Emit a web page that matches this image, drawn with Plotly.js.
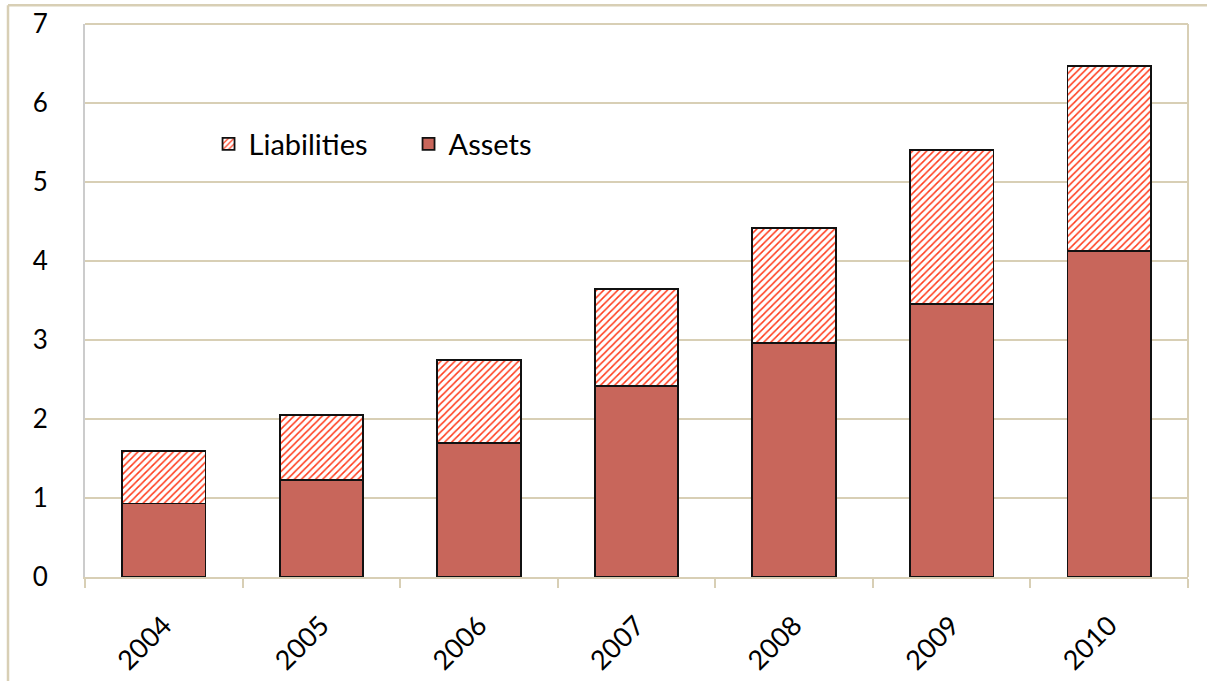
<!DOCTYPE html>
<html>
<head>
<meta charset="utf-8">
<script src="https://cdn.plot.ly/plotly-3.0.1.min.js"></script>
<style>
html,body{margin:0;padding:0;background:#fff;}
#chart{width:1207px;height:681px;}
</style>
</head>
<body>
<div id="chart"></div>
<script>
var years = ["2004","2005","2006","2007","2008","2009","2010"];
var assets = [0.93, 1.23, 1.70, 2.42, 2.96, 3.46, 4.13];
var liabilities = [0.66, 0.82, 1.05, 1.23, 1.46, 1.95, 2.34];
var yTicks = [0,1,2,3,4,5,6,7];

var tan = "#d8cfb5";
var font = "Lato, 'Open Sans', sans-serif";

var traces = [
  {
    type: "bar", name: "Assets", x: years, y: assets,
    marker: {color: "#c8665b", line: {color: "#111", width: 1.8}}
  },
  {
    type: "bar", name: "Liabilities", x: years, y: liabilities,
    marker: {
      color: "#ffffff",
      line: {color: "#111", width: 1.8},
      pattern: {shape: "/", fgcolor: "#ff3a1a", bgcolor: "#ffffff", size: 5, solidity: 0.3}
    }
  }
];

var layout = {
  width: 1207, height: 681,
  margin: {l: 85, r: 19, t: 24, b: 104},
  paper_bgcolor: "#fff", plot_bgcolor: "#fff",
  barmode: "stack",
  bargap: 0.47,
  font: {family: font, size: 26, color: "#000"},
  showlegend: true,
  legend: {
    orientation: "h", traceorder: "reversed",
    x: 0.112, y: 0.783, xanchor: "left", yanchor: "middle",
    bgcolor: "rgba(0,0,0,0)", font: {family: font, size: 29, color: "#000"},
    entrywidth: 155
  },
  xaxis: {
    type: "category",
    showgrid: false,
    showline: true, linecolor: tan, linewidth: 2,
    ticks: "outside", tickson: "boundaries", ticklen: 9, tickcolor: tan, tickwidth: 2,
    tickangle: -45, ticklabelstandoff: 20,
    tickfont: {family: font, size: 27, color: "#000"}
  },
  yaxis: {
    range: [0, 7], tickvals: yTicks,
    showgrid: true, gridcolor: tan, gridwidth: 2,
    showline: true, linecolor: "#cccccc", linewidth: 2,
    ticks: "", ticklabelstandoff: 30, zeroline: false,
    tickfont: {family: font, size: 26, color: "#000"}
  },
  shapes: [
    {type: "rect", xref: "paper", yref: "paper", x0: 0.079, x1: 0.442, y0: 0.714, y1: 0.86,
     fillcolor: "#fff", line: {width: 0}, layer: "between"},
    {type: "line", xref: "paper", yref: "paper", x0: 0, x1: 1, y0: 1, y1: 1,
     line: {color: tan, width: 2}, layer: "above"},
    {type: "line", xref: "paper", yref: "paper", x0: 1, x1: 1, y0: 0, y1: 1,
     line: {color: tan, width: 2}, layer: "above"},
    {type: "line", xref: "paper", yref: "paper", x0: -0.0698, x1: -0.0698, y0: -0.2, y1: 1.034,
     line: {color: tan, width: 2.5}, layer: "above"},
    {type: "line", xref: "paper", yref: "paper", x0: -0.0698, x1: 1.05, y0: 1.034, y1: 1.034,
     line: {color: tan, width: 2.5}, layer: "above"}
  ]
};

Plotly.newPlot("chart", traces, layout, {displayModeBar: false, staticPlot: true});
</script>
</body>
</html>
